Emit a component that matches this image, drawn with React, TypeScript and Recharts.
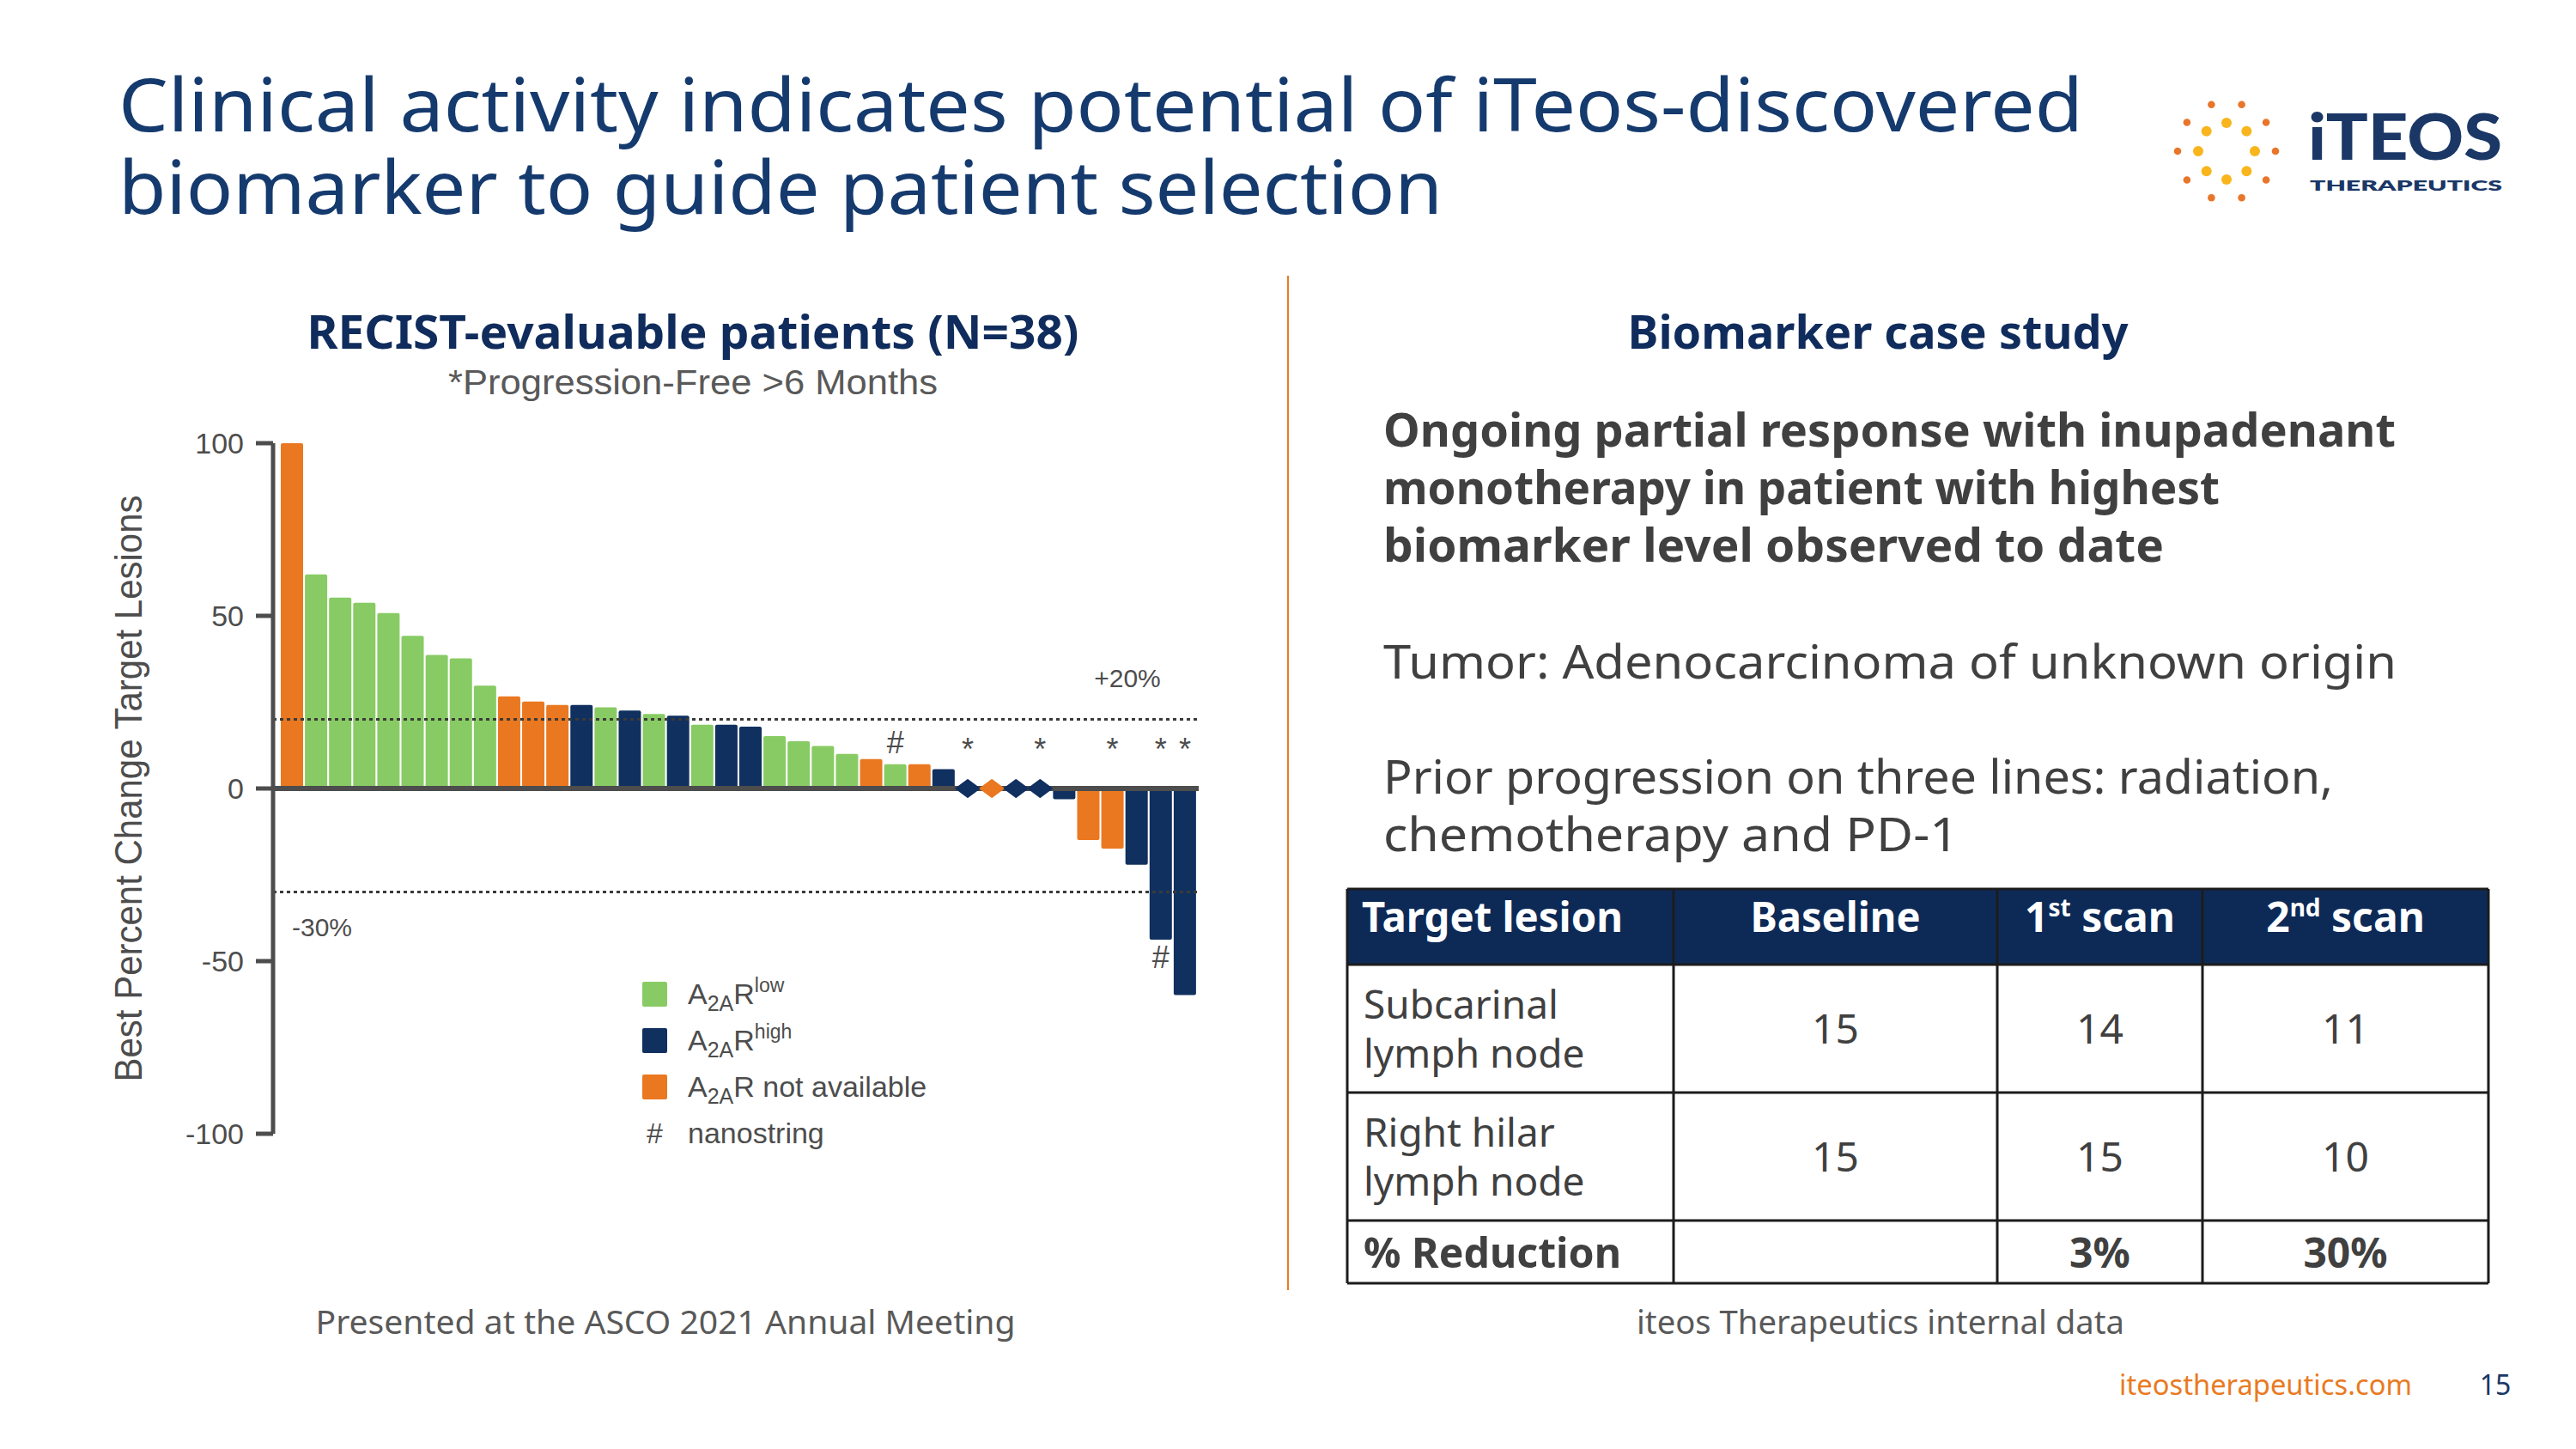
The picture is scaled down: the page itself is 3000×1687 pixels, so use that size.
import React from 'react';
import {
  ComposedChart,
  Bar,
  Cell,
  Scatter,
  XAxis,
  YAxis,
  ReferenceLine,
  Legend,
} from 'recharts';

// ---------------- Data ----------------
const patientIds = [
  'P01', 'P02', 'P03', 'P04', 'P05', 'P06', 'P07', 'P08', 'P09', 'P10',
  'P11', 'P12', 'P13', 'P14', 'P15', 'P16', 'P17', 'P18', 'P19', 'P20',
  'P21', 'P22', 'P23', 'P24', 'P25', 'P26', 'P27', 'P28', 'P29', 'P30',
  'P31', 'P32', 'P33', 'P34', 'P35', 'P36', 'P37', 'P38',
];

// Best percent change in target lesions
const bestChange = [
  100, 62, 55.3, 53.8, 50.8, 44.2, 38.7, 37.7, 29.8, 26.7,
  25.2, 24.2, 24.2, 23.5, 22.6, 21.6, 21.1, 18.5, 18.5, 17.9,
  15.2, 13.7, 12.3, 10, 8.5, 7, 7, 5.6, 0, 0,
  0, 0, -3.1, -14.9, -17.4, -22.1, -43.8, -59.8,
];

// A2AR status: low / high / na (not available)
const a2arStatus = [
  'na', 'low', 'low', 'low', 'low', 'low', 'low', 'low', 'low', 'na',
  'na', 'na', 'high', 'low', 'high', 'low', 'high', 'low', 'high', 'high',
  'low', 'low', 'low', 'low', 'na', 'low', 'na', 'high', 'high', 'na',
  'high', 'high', 'high', 'na', 'na', 'high', 'high', 'high',
];

// annotations above the zero line (* = progression-free > 6 months, # = nanostring)
const upperNotes = [
  '', '', '', '', '', '', '', '', '', '',
  '', '', '', '', '', '', '', '', '', '',
  '', '', '', '', '', '#', '', '', '*', '',
  '', '*', '', '', '*', '', '*', '*',
];
// annotations below a bar
const lowerNotes = [
  '', '', '', '', '', '', '', '', '', '',
  '', '', '', '', '', '', '', '', '', '',
  '', '', '', '', '', '', '', '', '', '',
  '', '', '', '', '', '', '#', '',
];

const NOTE_LEVEL = 13.5;
const LOWER_NOTE_GAP = 5;

const yTicks = [-100, -50, 0, 50, 100];
const thresholds = [20, -30];
const thresholdLabels = ['+20%', '-30%'];

const legendItems = [
  { key: 'low', sup: 'low', suffix: '' },
  { key: 'high', sup: 'high', suffix: '' },
  { key: 'na', sup: '', suffix: ' not available' },
];

const tableHeader = ['Target lesion', 'Baseline', '1st scan', '2nd scan'];
const lesionNames = [['Subcarinal', 'lymph node'], ['Right hilar', 'lymph node']];
const baselineSizes = [15, 15];
const firstScanSizes = [14, 15];
const secondScanSizes = [11, 10];
const reductionRow = ['% Reduction', '', '3%', '30%'];

// ---------------- Styles ----------------
const COLORS: Record<string, string> = {
  low: '#88CB64',
  high: '#10305F',
  na: '#EA7820',
};
const AXIS_GRAY = '#4d4d4d';
const TEXT_GRAY = '#404040';
const NAVY = '#0f2c5c';
const TITLE_NAVY = '#153a6e';
const ORANGE = '#E97A22';
const ARIAL = "'Liberation Sans', Arial, Helvetica, sans-serif";
const GOTHIC = "'Noto Sans', 'DejaVu Sans', sans-serif";

const rows = patientIds.map((id, i) => ({
  id,
  change: bestChange[i],
  group: a2arStatus[i],
  stable: bestChange[i] === 0 ? 0 : null,
  upperY: upperNotes[i] ? NOTE_LEVEL : null,
  upperNote: upperNotes[i],
  lowerY: lowerNotes[i] ? bestChange[i] - LOWER_NOTE_GAP : null,
  lowerNote: lowerNotes[i],
}));

const Diamond = (props: any) => {
  const { cx, cy, payload } = props;
  if (payload == null || payload.stable == null || !Number.isFinite(cx) || !Number.isFinite(cy)) return <g />;
  const hw = 13.5;
  const hh = 10;
  return (
    <polygon
      points={`${cx - hw},${cy} ${cx},${cy - hh} ${cx + hw},${cy} ${cx},${cy + hh}`}
      fill={COLORS[payload.group]}
      strokeLinejoin="round"
      stroke={COLORS[payload.group]}
      strokeWidth={2}
    />
  );
};

const makeNote = (field: 'upperNote' | 'lowerNote') => (props: any) => {
  const { cx, cy, payload } = props;
  const t = payload ? payload[field] : '';
  if (!t || !Number.isFinite(cx) || !Number.isFinite(cy)) return <g />;
  const fs = 36;
  const shift = t === '*' ? 0.58 * fs : 0.36 * fs;
  return (
    <text x={cx} y={cy + shift} textAnchor="middle" fontSize={fs} fontFamily={ARIAL} fill={AXIS_GRAY}>
      {t}
    </text>
  );
};

const YLabel = (props: any) => {
  const vb = props.viewBox || {};
  const cx = vb.x - 69;
  const cy = vb.y + vb.height / 2;
  return (
    <text
      x={cx}
      y={cy}
      transform={`rotate(-90 ${cx} ${cy})`}
      textAnchor="middle"
      dominantBaseline="central"
      fontSize={44}
      fontFamily={"'Liberation Sans Narrow', " + ARIAL}
      fill={AXIS_GRAY}
      textLength={683}
      lengthAdjust="spacingAndGlyphs"
    >
      Best Percent Change Target Lesions
    </text>
  );
};

const upperThresholdLabel = (props: any) => {
  const vb = props.viewBox || {};
  return (
    <text x={vb.x + vb.width - 83} y={vb.y - 38} textAnchor="middle" fontSize={30} fontFamily={ARIAL} fill={AXIS_GRAY}>
      {thresholdLabels[0]}
    </text>
  );
};
const lowerThresholdLabel = (props: any) => {
  const vb = props.viewBox || {};
  return (
    <text x={vb.x + 22} y={vb.y + 51} textAnchor="start" fontSize={30} fontFamily={ARIAL} fill={AXIS_GRAY}>
      {thresholdLabels[1]}
    </text>
  );
};

const LegendContent = () => (
  <div style={{ fontFamily: ARIAL, fontSize: 34, color: AXIS_GRAY }}>
    {legendItems.map((it) => (
      <div key={it.key} style={{ display: 'flex', alignItems: 'center', height: 54 }}>
        <span
          style={{
            display: 'inline-block',
            width: 29,
            height: 29,
            background: COLORS[it.key],
            borderRadius: 2,
            marginRight: 24,
          }}
        />
        <span style={{ lineHeight: '34px' }}>
          A<sub style={{ fontSize: 25, lineHeight: 0, verticalAlign: '-0.3em' }}>2A</sub>R
          {it.sup ? <sup style={{ fontSize: 23, lineHeight: 0, verticalAlign: '0.6em' }}>{it.sup}</sup> : null}
          {it.suffix}
        </span>
      </div>
    ))}
    <div style={{ display: 'flex', alignItems: 'center', height: 54 }}>
      <span style={{ display: 'inline-block', width: 29, marginRight: 24, textAlign: 'center' }}>#</span>
      <span>nanostring</span>
    </div>
  </div>
);

// ---------------- Slide text helper ----------------
type TP = {
  x: number;
  y: number;
  size: number;
  children: React.ReactNode;
  weight?: number;
  fill?: string;
  anchor?: 'start' | 'middle' | 'end';
  len?: number;
  family?: string;
};
const T = ({ x, y, size, children, weight = 400, fill = TEXT_GRAY, anchor = 'start', len, family = GOTHIC }: TP) => (
  <text
    x={x}
    y={y}
    fontSize={size}
    fontWeight={weight}
    fill={fill}
    textAnchor={anchor}
    fontFamily={family}
    textLength={len}
    lengthAdjust={len ? 'spacingAndGlyphs' : undefined}
  >
    {children}
  </text>
);

const logoOuter = [0, 36, 72, 108, 144, 180, 216, 252, 288, 324];
const logoInner = [0, 45, 90, 135, 180, 225, 270, 315];

const Logo = () => {
  const cx = 2593;
  const cy = 176;
  return (
    <g>
      {logoOuter.map((a) => (
        <circle key={'o' + a} cx={cx + 57 * Math.cos((a * Math.PI) / 180)} cy={cy - 57 * Math.sin((a * Math.PI) / 180)} r={4.3} fill="#E8762A" />
      ))}
      {logoInner.map((a) => (
        <circle key={'i' + a} cx={cx + 33 * Math.cos((a * Math.PI) / 180)} cy={cy - 33 * Math.sin((a * Math.PI) / 180)} r={6} fill="#F8B51C" />
      ))}
      <T x={2688} y={186} size={74} weight={900} fill="#1a3766" len={226} family="'Lato', 'Noto Sans', sans-serif">
        iTEOS
      </T>
      <T x={2690} y={222} size={17} weight={800} fill="#1a3766" len={224} family="'Lato', 'Noto Sans', sans-serif">
        THERAPEUTICS
      </T>
    </g>
  );
};

const colX = [1569, 1949, 2326, 2565, 2898];
const rowY = [1035, 1123, 1272, 1421, 1494];
const colCenter = (c: number) => (colX[c] + colX[c + 1]) / 2;

const Table = () => (
  <g>
    <rect x={colX[0]} y={rowY[0]} width={colX[4] - colX[0]} height={rowY[1] - rowY[0]} fill="#0d2a57" />
    {rowY.map((y) => (
      <line key={'h' + y} x1={colX[0]} x2={colX[4]} y1={y} y2={y} stroke="#1c1c1c" strokeWidth={3} />
    ))}
    {colX.map((x) => (
      <line key={'v' + x} x1={x} x2={x} y1={rowY[0]} y2={rowY[4]} stroke="#1c1c1c" strokeWidth={3} />
    ))}
    {/* header */}
    <T x={1586} y={1085} size={48} weight={700} fill="#ffffff" len={304}>
      {tableHeader[0]}
    </T>
    <T x={colCenter(1)} y={1085} size={48} weight={700} fill="#ffffff" anchor="middle" len={198}>
      {tableHeader[1]}
    </T>
    <T x={colCenter(2)} y={1085} size={48} weight={700} fill="#ffffff" anchor="middle">
      1<tspan fontSize={28} dy={-18}>st</tspan>
      <tspan dy={18}> scan</tspan>
    </T>
    <T x={colCenter(3)} y={1085} size={48} weight={700} fill="#ffffff" anchor="middle">
      2<tspan fontSize={28} dy={-18}>nd</tspan>
      <tspan dy={18}> scan</tspan>
    </T>
    {/* body rows */}
    {lesionNames.map((names, r) => {
      const top = rowY[r + 1];
      const mid = (rowY[r + 1] + rowY[r + 2]) / 2;
      return (
        <g key={'r' + r}>
          <T x={1588} y={top + 63} size={46} fill={TEXT_GRAY}>
            {names[0]}
          </T>
          <T x={1588} y={top + 120} size={46} fill={TEXT_GRAY}>
            {names[1]}
          </T>
          <T x={colCenter(1)} y={mid + 17} size={48} anchor="middle" fill={TEXT_GRAY}>
            {baselineSizes[r]}
          </T>
          <T x={colCenter(2)} y={mid + 17} size={48} anchor="middle" fill={TEXT_GRAY}>
            {firstScanSizes[r]}
          </T>
          <T x={colCenter(3)} y={mid + 17} size={48} anchor="middle" fill={TEXT_GRAY}>
            {secondScanSizes[r]}
          </T>
        </g>
      );
    })}
    <T x={1588} y={1476} size={48} weight={700} fill={TEXT_GRAY} len={300}>
      {reductionRow[0]}
    </T>
    <T x={colCenter(2)} y={1476} size={48} weight={700} anchor="middle" fill={TEXT_GRAY}>
      {reductionRow[2]}
    </T>
    <T x={colCenter(3)} y={1476} size={48} weight={700} anchor="middle" fill={TEXT_GRAY}>
      {reductionRow[3]}
    </T>
  </g>
);

const SlideOverlay = () => (
  <svg width={3000} height={1687} style={{ position: 'absolute', left: 0, top: 0 }}>
    <rect x={0} y={0} width={3000} height={1687} fill="#ffffff" />
    {/* title */}
    <T x={138} y={153} size={86} fill={TITLE_NAVY} len={2288}>
      Clinical activity indicates potential of iTeos-discovered
    </T>
    <T x={138} y={249} size={86} fill={TITLE_NAVY} len={1542}>
      biomarker to guide patient selection
    </T>
    <Logo />
    {/* divider */}
    <line x1={1500} x2={1500} y1={321} y2={1502} stroke={ORANGE} strokeWidth={2} />
    {/* left headings */}
    <T x={807} y={406} size={54} weight={700} fill={NAVY} anchor="middle" len={899}>
      RECIST-evaluable patients (N=38)
    </T>
    <T x={807} y={459} size={40} fill="#595959" anchor="middle" len={570} family={ARIAL}>
      *Progression-Free &gt;6 Months
    </T>
    {/* right side */}
    <T x={2187} y={406} size={54} weight={700} fill={NAVY} anchor="middle" len={583}>
      Biomarker case study
    </T>
    <T x={1611} y={520} size={54} weight={700} fill={TEXT_GRAY} len={1179}>
      Ongoing partial response with inupadenant
    </T>
    <T x={1611} y={587} size={54} weight={700} fill={TEXT_GRAY} len={974}>
      monotherapy in patient with highest
    </T>
    <T x={1611} y={654} size={54} weight={700} fill={TEXT_GRAY} len={909}>
      biomarker level observed to date
    </T>
    <T x={1611} y={790} size={54} fill={TEXT_GRAY} len={1180}>
      Tumor: Adenocarcinoma of unknown origin
    </T>
    <T x={1611} y={924} size={54} fill={TEXT_GRAY} len={1106}>
      Prior progression on three lines: radiation,
    </T>
    <T x={1611} y={991} size={54} fill={TEXT_GRAY} len={670}>
      chemotherapy and PD-1
    </T>
    <Table />
    {/* footers */}
    <T x={775} y={1553} size={38} fill="#595959" anchor="middle" len={815}>
      Presented at the ASCO 2021 Annual Meeting
    </T>
    <T x={2190} y={1553} size={38} fill="#595959" anchor="middle" len={568}>
      iteos Therapeutics internal data
    </T>
    <T x={2468} y={1624} size={32} fill={ORANGE} len={341}>
      iteostherapeutics.com
    </T>
    <T x={2906} y={1624} size={32} fill="#1a3766" anchor="middle">
      15
    </T>
  </svg>
);

export default function App() {
  return (
    <div style={{ position: 'absolute', left: 0, top: 0, width: 3000, height: 1687, background: '#fff' }}>
      <SlideOverlay />
      <div style={{ position: 'absolute', left: 0, top: 0, width: 1500, height: 1400 }}>
        <ComposedChart
          width={1500}
          height={1400}
          data={rows}
          margin={{ top: 516, right: 104, bottom: 80, left: 218 }}
          barCategoryGap={1}
        >
          <XAxis dataKey="id" type="category" hide padding={{ left: 8, right: 2 }} />
          <YAxis
            type="number"
            domain={[-100, 100]}
            ticks={yTicks}
            width={100}
            interval={0}
            axisLine={{ stroke: AXIS_GRAY, strokeWidth: 5 }}
            tickLine={{ stroke: AXIS_GRAY, strokeWidth: 5 }}
            tickSize={20}
            tickMargin={14}
            tick={{ fontSize: 34, fill: AXIS_GRAY, fontFamily: ARIAL }}
            label={<YLabel />}
          />
          <ReferenceLine
            y={thresholds[0]}
            stroke="#3a3a3a"
            strokeWidth={3}
            strokeDasharray="4 4"
            label={upperThresholdLabel}
          />
          <ReferenceLine
            y={thresholds[1]}
            stroke="#3a3a3a"
            strokeWidth={3}
            strokeDasharray="4 4"
            label={lowerThresholdLabel}
          />
          <Bar dataKey="change" barSize={26} radius={2} isAnimationActive={false} legendType="none">
            {rows.map((r) => (
              <Cell key={r.id} fill={COLORS[r.group]} />
            ))}
          </Bar>
          <ReferenceLine y={0} stroke={AXIS_GRAY} strokeWidth={6} />
          <Scatter dataKey="stable" shape={Diamond} isAnimationActive={false} legendType="none" />
          <Scatter dataKey="upperY" shape={makeNote('upperNote')} isAnimationActive={false} legendType="none" />
          <Scatter dataKey="lowerY" shape={makeNote('lowerNote')} isAnimationActive={false} legendType="none" />
          <Legend
            layout="vertical"
            align="center"
            verticalAlign="middle"
            content={<LegendContent />}
            wrapperStyle={{ left: 748, top: 1130, width: 420, height: 220 }}
          />
        </ComposedChart>
      </div>
    </div>
  );
}
